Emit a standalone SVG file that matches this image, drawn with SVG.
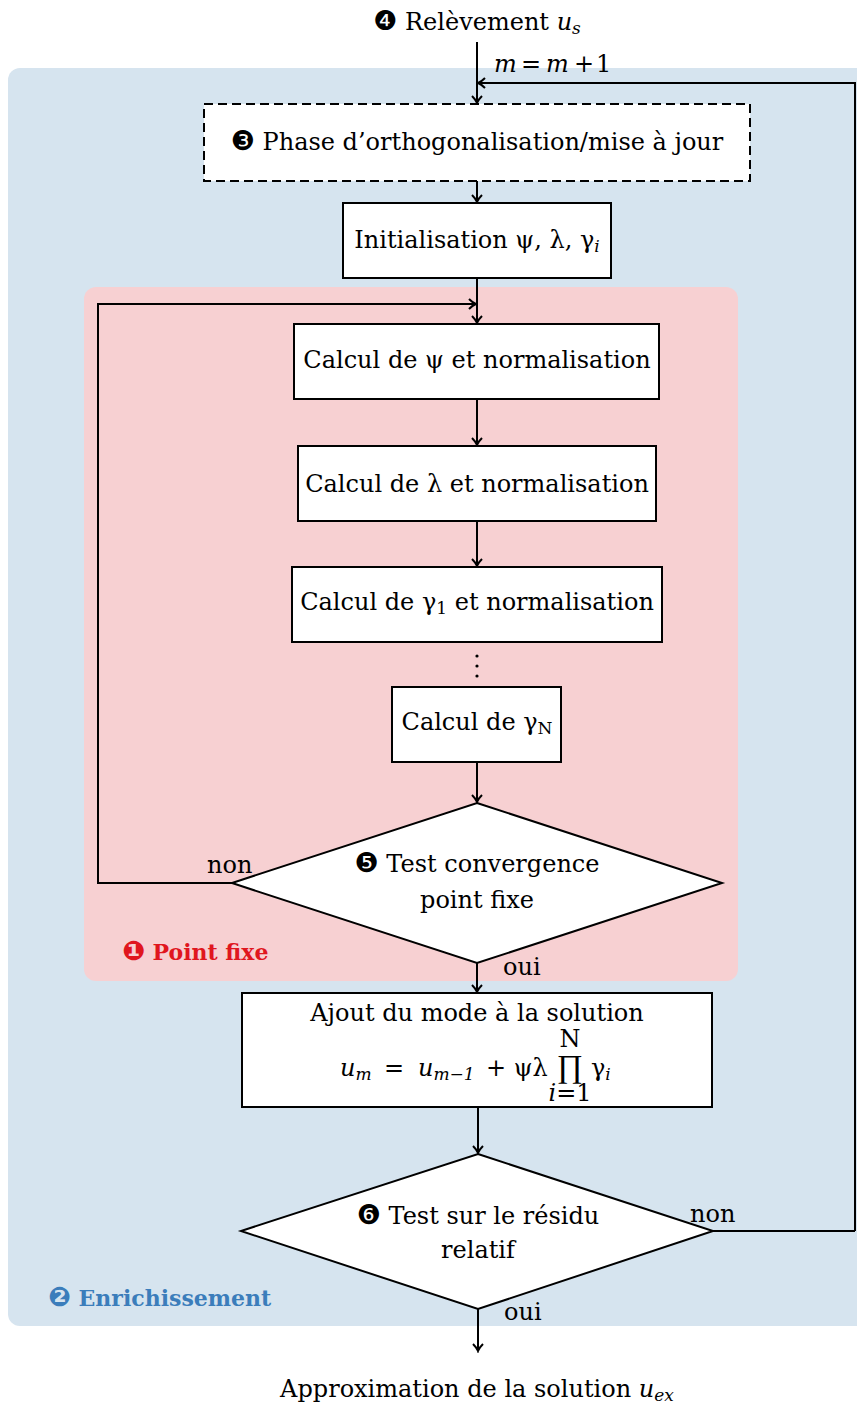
<svg xmlns="http://www.w3.org/2000/svg" width="857" height="1404" viewBox="0 0 857 1404">
<style>
text{font-family:"DejaVu Serif","Liberation Serif",serif;font-size:24px;fill:#000}
.c{text-anchor:middle}
.i{font-style:italic}
.d{font-family:"DejaVu Sans",sans-serif;font-size:27px}
.box{fill:#fff;stroke:#000;stroke-width:2}
.ln{fill:none;stroke:#000;stroke-width:2}
.lbl{font-weight:bold;font-size:22px}
</style>
<defs>
<marker id="ar" viewBox="-10 -6 12 12" markerWidth="12" markerHeight="12" refX="0" refY="0" orient="auto" markerUnits="userSpaceOnUse">
<path d="M-7,-5 Q-3,-1 0,0 Q-3,1 -7,5" fill="none" stroke="#000" stroke-width="2"/>
</marker>
</defs>
<g id="bg-enrichissement">
<rect x="8" y="68" width="870" height="1258" rx="12" fill="#d6e4ef"/>
<text class="lbl" x="48" y="1306" style="fill:#3b7dbb"><tspan class="d" style="fill:#3b7dbb">❷</tspan> Enrichissement</text>
</g>
<g id="bg-pointfixe">
<rect x="84" y="287" width="654" height="694" rx="12" fill="#f7d0d2"/>
<text class="lbl" x="122" y="960" style="fill:#e0161e"><tspan class="d" style="fill:#e0161e">❶</tspan> Point fixe</text>
</g>
<g id="connectors">
<path class="ln" d="M477,42 V103" marker-end="url(#ar)"/>
<path class="ln" d="M855,1231 V83 H478" marker-end="url(#ar)"/>
<path class="ln" d="M477,181 V202" marker-end="url(#ar)"/>
<path class="ln" d="M477,278 V323" marker-end="url(#ar)"/>
<path class="ln" d="M232,883 H98 V304 H476" marker-end="url(#ar)"/>
<path class="ln" d="M477,399 V445" marker-end="url(#ar)"/>
<path class="ln" d="M477,521 V566" marker-end="url(#ar)"/>
<path class="ln" d="M477,762 V802" marker-end="url(#ar)"/>
<path class="ln" d="M477,963 V992" marker-end="url(#ar)"/>
<path class="ln" d="M478,1107 V1153" marker-end="url(#ar)"/>
<path class="ln" d="M713,1231 H855"/>
<path class="ln" d="M478,1309 V1351" marker-end="url(#ar)"/>
<circle cx="477" cy="656" r="1.6"/>
<circle cx="477" cy="666" r="1.6"/>
<circle cx="477" cy="676" r="1.6"/>
<text x="494" y="72" class="i">m</text>
<text x="521" y="72">=</text>
<text x="546" y="72" class="i">m</text>
<text x="574" y="72">+</text>
<text x="596" y="72">1</text>
<text x="207" y="873">non</text>
<text x="503" y="975">oui</text>
<text x="690" y="1222">non</text>
<text x="504" y="1320">oui</text>
</g>
<g id="start">
<text class="c" x="477" y="30"><tspan class="d">❹</tspan> Relèvement <tspan class="i">u</tspan><tspan class="i" font-size="17" dy="4">s</tspan></text>
</g>
<g id="phase">
<rect x="204" y="104" width="546" height="77" fill="#fff" stroke="#000" stroke-width="2" stroke-dasharray="9,5"/>
<text class="c" x="477" y="150"><tspan class="d">❸</tspan>  Phase d’orthogonalisation/mise à jour</text>
</g>
<g id="init">
<rect class="box" x="343" y="203" width="268" height="75"/>
<text class="c" x="477" y="248">Initialisation ψ, λ, γ<tspan class="i" font-size="17" dy="4">i</tspan></text>
</g>
<g id="calc-psi">
<rect class="box" x="294" y="324" width="365" height="75"/>
<text class="c" x="477" y="368">Calcul de ψ et normalisation</text>
</g>
<g id="calc-lambda">
<rect class="box" x="298" y="446" width="358" height="75"/>
<text class="c" x="477" y="492">Calcul de λ et normalisation</text>
</g>
<g id="calc-gamma1">
<rect class="box" x="292" y="567" width="370" height="75"/>
<text class="c" x="477" y="610">Calcul de γ<tspan font-size="17" dy="4">1</tspan><tspan dy="-4"> et normalisation</tspan></text>
</g>
<g id="calc-gammaN">
<rect class="box" x="392" y="687" width="169" height="75"/>
<text class="c" x="477" y="730">Calcul de γ<tspan font-size="17" dy="4">N</tspan></text>
</g>
<g id="test-pf">
<polygon class="box" points="477,803 722,883 477,963 232,883"/>
<text class="c" x="477" y="872"><tspan class="d">❺</tspan> Test convergence</text>
<text class="c" x="477" y="908">point fixe</text>
</g>
<g id="ajout">
<rect class="box" x="242" y="993" width="470" height="114"/>
<text class="c" x="477" y="1021">Ajout du mode à la solution</text>
<text x="340" y="1076" class="i">u<tspan font-size="17" dy="4">m</tspan></text>
<text x="384" y="1076">=</text>
<text x="418" y="1076" class="i">u<tspan font-size="17" dy="4">m−1</tspan></text>
<text x="486" y="1076">+ ψλ</text>
<text x="570" y="1047" font-size="16" class="c">N</text>
<text x="570" y="1077" style="font-family:'Liberation Serif',serif;font-size:32px" class="c">∏</text>
<text x="570" y="1101" font-size="16" class="c"><tspan class="i">i</tspan>=1</text>
<text x="591" y="1076">γ<tspan class="i" font-size="17" dy="4">i</tspan></text>
</g>
<g id="test-res">
<polygon class="box" points="478,1154 713,1231 478,1309 241,1231"/>
<text class="c" x="478" y="1224"><tspan class="d">❻</tspan> Test sur le résidu</text>
<text class="c" x="478" y="1258">relatif</text>
</g>
<g id="end">
<text class="c" x="477" y="1397">Approximation de la solution <tspan class="i">u</tspan><tspan class="i" font-size="17" dy="4">ex</tspan></text>
</g>
</svg>
